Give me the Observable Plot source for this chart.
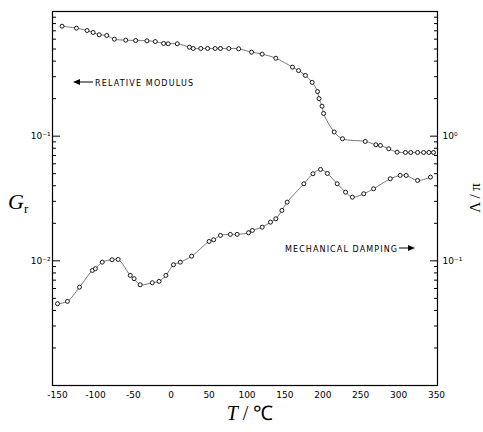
<!DOCTYPE html>
<html><head><meta charset="utf-8">
<script src="https://cdn.jsdelivr.net/npm/d3@7"></script>
<script src="https://cdn.jsdelivr.net/npm/@observablehq/plot@0.6"></script>
<style>body{margin:0;background:#fff} svg{display:block}</style>
</head><body><div id="chart"></div>
<script>
// Relative modulus G_r (left axis)
const modT = [-144,-125,-111,-103,-95,-85,-75,-60,-47,-32,-21,-10,-4,8,24,29,39,48,58,65,76,89,106,120,138,160,168,177,186,193,195,199,201,215,226,256,270,276,287,298,309,316,325,333,340,346];
const modG = [0.762,0.735,0.704,0.679,0.650,0.642,0.600,0.589,0.585,0.582,0.574,0.554,0.551,0.551,0.517,0.505,0.505,0.505,0.505,0.505,0.505,0.502,0.472,0.455,0.422,0.358,0.336,0.307,0.270,0.228,0.200,0.174,0.152,0.108,0.0953,0.0907,0.0853,0.0843,0.0792,0.0744,0.074,0.074,0.074,0.074,0.074,0.074];
// Mechanical damping (right axis units)
const dampT = [-150,-137,-121,-104,-100,-91,-78,-70,-54,-49,-41,-25,-16,-7,3,12,27,50,56,65,78,87,102,107,120,131,138,146,153,175,187,197,206,219,230,239,254,267,289,302,310,325,342];
const dampV = [0.0453,0.0473,0.0615,0.0838,0.0865,0.0976,0.102,0.1026,0.0764,0.0719,0.0643,0.0667,0.0684,0.0764,0.0930,0.0976,0.109,0.143,0.1476,0.160,0.163,0.163,0.168,0.1753,0.1863,0.2044,0.2176,0.2536,0.2956,0.415,0.4994,0.5408,0.502,0.415,0.3556,0.324,0.3451,0.3785,0.4553,0.4841,0.4841,0.4413,0.4691];
// Ticks
const xTicks = [-150,-100,-50,0,50,100,150,200,250,300,350];
const leftTickVals = [0.1, 0.01];
const leftTickLabels = ["10⁻¹","10⁻²"];
const rightTickVals = [1, 0.1];
const rightTickLabels = ["10⁰","10⁻¹"];
const RIGHT_TO_LEFT = 0.1; // right axis value = 10 × left axis value

const modulus = modT.map((t,i)=>({T:t, v:modG[i]}));
const damping = dampT.map((t,i)=>({T:t, v:dampV[i]*RIGHT_TO_LEFT}));
const minor = [];
for (const d of [0.001,0.01,0.1]) for (let k=2;k<=9;k++) minor.push(d*k);
const rightMajorLeft = rightTickVals.map(v=>v*RIGHT_TO_LEFT);
const fmtFrom = (vals, labels) => d => {
  const i = vals.findIndex(v => Math.abs(Math.log10(v) - Math.log10(d)) < 1e-6);
  return i < 0 ? "" : labels[i];
};

const chart = Plot.plot({
  width: 483, height: 432,
  marginLeft: 52, marginRight: 46, marginTop: 11, marginBottom: 47,
  x: {domain: [-156.6, 351.3]},
  y: {type: "log", domain: [0.001, 1]},
  style: {fontFamily: "DejaVu Sans", fontSize: "9px", color: "#000", background: "#fff"},
  marks: [
    Plot.frame({stroke: "#000", strokeWidth: 1.2}),
    Plot.axisX(xTicks, {tickSize: 0, tickPadding: 6, tickFormat: d => String(d), label: null}),
    Plot.axisY(minor, {anchor: "left", tickSize: -4, tickFormat: () => "", label: null}),
    Plot.axisY(leftTickVals, {anchor: "left", tickSize: -8, tickFormat: () => "", label: null}),
    Plot.axisY(leftTickVals, {anchor: "left", tickSize: 0, tickPadding: 2, tickFormat: fmtFrom(leftTickVals, leftTickLabels), label: null}),
    Plot.axisY(minor, {anchor: "right", tickSize: -4, tickFormat: () => "", label: null}),
    Plot.axisY(rightMajorLeft, {anchor: "right", tickSize: -8, tickFormat: () => "", label: null}),
    Plot.axisY(rightMajorLeft, {anchor: "right", tickSize: 0, tickPadding: 5, tickFormat: fmtFrom(rightMajorLeft, rightTickLabels), label: null}),
    Plot.line(modulus, {x: "T", y: "v", curve: "catmull-rom", stroke: "#555", strokeWidth: 0.8}),
    Plot.dot(modulus, {x: "T", y: "v", r: 2, stroke: "#000", fill: "#fff", strokeWidth: 0.9}),
    Plot.line(damping, {x: "T", y: "v", curve: "catmull-rom", stroke: "#555", strokeWidth: 0.8}),
    Plot.dot(damping, {x: "T", y: "v", r: 2, stroke: "#000", fill: "#fff", strokeWidth: 0.9})
  ]
});
document.getElementById("chart").appendChild(chart);

const svg = d3.select(chart);
// y-axis label G_r
const gl = svg.append("text").attr("x", 8).attr("y", 209).attr("text-anchor", "start")
  .attr("font-family", "Liberation Serif").attr("font-size", 22).attr("font-style", "italic");
gl.append("tspan").text("G");
gl.append("tspan").attr("font-size", 13).attr("font-style", "normal").attr("dy", 4).text("r");
// x-axis label
const xl = svg.append("text").attr("x", 250).attr("y", 420).attr("text-anchor", "middle")
  .attr("font-family", "Liberation Serif").attr("font-size", 20);
xl.append("tspan").attr("font-style", "italic").text("T");
xl.append("tspan").text(" / ℃");
// right label
svg.append("text").attr("transform", "translate(480,198) rotate(-90)").attr("text-anchor", "middle")
  .attr("font-family", "Liberation Serif").attr("font-size", 15).text("Λ / π");
// annotations
svg.append("path").attr("d", "M73,82 L80,79 L80,85 Z").attr("fill", "#000");
svg.append("line").attr("x1", 80).attr("x2", 93).attr("y1", 82).attr("y2", 82).attr("stroke", "#000").attr("stroke-width", 1);
svg.append("text").attr("x", 95).attr("y", 85.5).attr("text-anchor", "start").attr("font-family", "DejaVu Sans").attr("font-size", 8)
  .attr("textLength", 98).attr("lengthAdjust", "spacing").text("RELATIVE MODULUS");
svg.append("text").attr("x", 285).attr("y", 251.5).attr("text-anchor", "start").attr("font-family", "DejaVu Sans").attr("font-size", 8)
  .attr("textLength", 112).attr("lengthAdjust", "spacing").text("MECHANICAL DAMPING");
svg.append("line").attr("x1", 399).attr("x2", 409).attr("y1", 248).attr("y2", 248).attr("stroke", "#000").attr("stroke-width", 1);
svg.append("path").attr("d", "M415,248 L408,245 L408,251 Z").attr("fill", "#000");
</script>
</body></html>
